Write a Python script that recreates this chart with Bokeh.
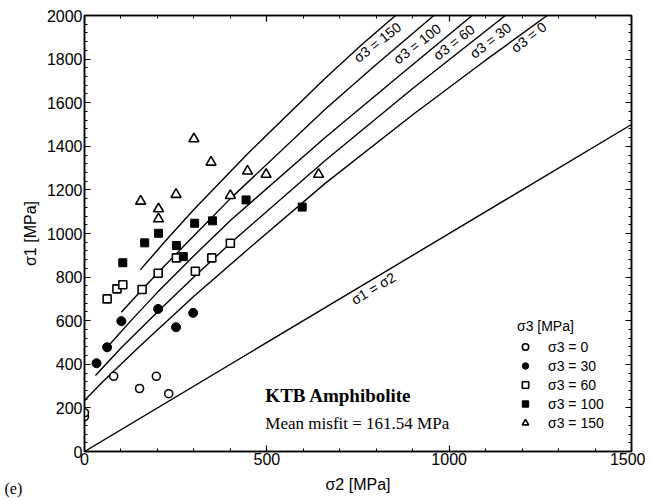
from bokeh.plotting import figure
from bokeh.models import (Range1d, LinearAxis, SingleIntervalTicker, Legend, LegendItem,
                          Label, CustomJSTickFormatter, ColumnDataSource)
from bokeh.core.properties import value
from bokeh.embed import file_html
from bokeh.resources import INLINE

# ---- data ----
s0_x = [0, 0, 80, 151, 197, 231]
s0_y = [160, 178, 345, 289, 345, 265]
s30_x = [33, 62, 101, 202, 251, 298]
s30_y = [405, 478, 598, 654, 570, 636]
s60_x = [62, 89, 105, 158, 202, 252, 304, 349, 400]
s60_y = [700, 746, 765, 743, 818, 888, 827, 888, 955]
s100_x = [105, 165, 203, 252, 271, 302, 351, 443, 597]
s100_y = [866, 957, 1001, 945, 894, 1047, 1058, 1154, 1121]
s150_x = [154, 203, 203, 251, 300, 347, 400, 447, 498, 642]
s150_y = [1148, 1113, 1067, 1179, 1434, 1327, 1174, 1286, 1271, 1271]

# fitted failure curves (sigma2, sigma1)
c0_x = [0, 50, 150, 300, 450, 660, 900, 1100, 1269]
c0_y = [234, 320, 480, 712, 930, 1230, 1545, 1795, 2000]
c30_x = [30, 100, 200, 300, 400, 660, 900, 1154]
c30_y = [349, 475, 640, 800, 955, 1335, 1665, 2000]
c60_x = [62, 130, 200, 300, 400, 660, 850, 1063]
c60_y = [478, 605, 730, 898, 1060, 1440, 1705, 2000]
c100_x = [101, 150, 200, 300, 400, 660, 800, 958]
c100_y = [639, 728, 818, 990, 1160, 1570, 1775, 2000]
c150_x = [153, 220, 300, 450, 660, 760, 853]
c150_y = [833, 962, 1110, 1370, 1712, 1866, 2000]
eq_x = [0, 1500]
eq_y = [0, 1500]

curve_labels = ["σ3 = 150", "σ3 = 100", "σ3 = 60", "σ3 = 30", "σ3 = 0"]
curve_label_x = [803, 912, 1013, 1113, 1218]
curve_label_y = [1877, 1870, 1877, 1885, 1900]
legend_labels = ["σ3 = 0", "σ3 = 30", "σ3 = 60", "σ3 = 100", "σ3 = 150"]

SANS = "Liberation Sans"
SERIF = "Liberation Serif"

p = figure(width=645, height=499, output_backend="svg", toolbar_location=None,
           x_range=Range1d(0, 1500), y_range=Range1d(0, 2000),
           min_border_left=84, min_border_right=14, min_border_top=15, min_border_bottom=48)
p.grid.visible = False
p.outline_line_color = "black"
p.outline_line_width = 1.5
p.background_fill_color = "white"
p.border_fill_color = "white"

def style_axis(ax, labels=True):
    ax.axis_line_width = 1.5
    ax.axis_line_color = "black"
    ax.major_tick_in = 6
    ax.major_tick_out = 0
    ax.minor_tick_in = 3
    ax.minor_tick_out = 0
    ax.major_tick_line_width = 1.2
    ax.major_tick_line_color = "black"
    ax.minor_tick_line_color = "black"
    ax.major_label_text_font = SANS
    ax.major_label_text_font_size = "16px"
    ax.major_label_text_color = "black"
    ax.axis_label_text_font = SANS
    ax.axis_label_text_font_size = "16px"
    ax.axis_label_text_font_style = "normal"
    ax.axis_label_text_color = "black"
    if not labels:
        ax.formatter = CustomJSTickFormatter(code="return ''")

p.xaxis.ticker = SingleIntervalTicker(interval=500, num_minor_ticks=5)
p.yaxis.ticker = SingleIntervalTicker(interval=200, num_minor_ticks=5)
p.xaxis.axis_label = "σ2 [MPa]"
p.yaxis.axis_label = "σ1 [MPa]"
style_axis(p.xaxis[0])
style_axis(p.yaxis[0])
p.xaxis[0].major_label_standoff = 1
p.xaxis[0].axis_label_standoff = 8
p.yaxis[0].major_label_standoff = 2
p.yaxis[0].axis_label_standoff = 5

ax_top = LinearAxis(ticker=SingleIntervalTicker(interval=500, num_minor_ticks=5))
ax_right = LinearAxis(ticker=SingleIntervalTicker(interval=200, num_minor_ticks=5))
style_axis(ax_top, labels=False)
style_axis(ax_right, labels=False)
p.add_layout(ax_top, "above")
p.add_layout(ax_right, "right")

# curves
for cx, cy in [(c0_x, c0_y), (c30_x, c30_y), (c60_x, c60_y), (c100_x, c100_y), (c150_x, c150_y), (eq_x, eq_y)]:
    p.line(cx, cy, line_color="black", line_width=1.4)

# points
r0 = p.scatter(s0_x, s0_y, marker="circle", size=8, fill_color="white", line_color="black", line_width=1.6)
r30 = p.scatter(s30_x, s30_y, marker="circle", size=9, fill_color="black", line_color="black")
r60 = p.scatter(s60_x, s60_y, marker="square", size=8, fill_color="white", line_color="black", line_width=1.6)
r100 = p.scatter(s100_x, s100_y, marker="square", size=8, fill_color="black", line_color="black")
r150 = p.scatter(s150_x, s150_y, marker="triangle", size=10, fill_color="white", line_color="black", line_width=1.6)

# curve labels
src = ColumnDataSource(dict(x=curve_label_x, y=curve_label_y, t=curve_labels))
p.text(x="x", y="y", text="t", source=src, angle=0.66, text_font=value(SANS),
       text_font_size="14px", text_align="center", text_baseline="middle", text_color="black")
p.text(x=[792], y=[748], text=["σ1 = σ2"], angle=0.54, text_font=value(SANS),
       text_font_size="14px", text_align="center", text_baseline="middle", text_color="black")

p.text(x=[496], y=[257], text=["KTB Amphibolite"], text_font=value(SERIF), text_font_style="bold",
       text_font_size="19px", text_align="left", text_baseline="middle", text_color="black")
p.text(x=[496], y=[128], text=["Mean misfit = 161.54 MPa"], text_font=value(SERIF),
       text_font_size="17px", text_align="left", text_baseline="middle", text_color="black")

p.add_layout(Label(x=-195, y=-170, text="(e)", level="overlay",
                   text_font=SERIF, text_font_size="16px",
                   text_align="center", text_baseline="middle", text_color="black"), "left")

legend = Legend(items=[LegendItem(label=l, renderers=[r]) for l, r in
                       zip(legend_labels, [r0, r30, r60, r100, r150])],
                location=(433, 20), title="σ3 [MPa]", border_line_alpha=0,
                background_fill_alpha=0, margin=0, padding=0, spacing=2,
                glyph_width=16, glyph_height=17, label_height=17, label_standoff=15,
                label_text_font=SANS, label_text_font_size="14px", label_text_color="black",
                title_text_font=SANS, title_text_font_size="14px", title_text_font_style="normal",
                title_text_color="black", title_standoff=4)
p.add_layout(legend)

open("out.html", "w").write(file_html(p, INLINE))
